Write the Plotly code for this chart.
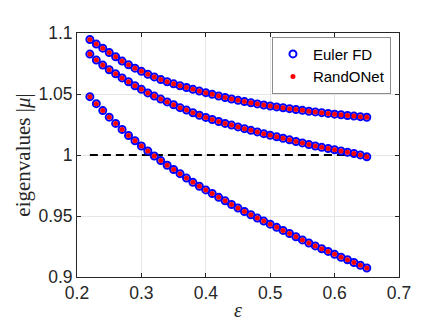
import plotly.graph_objects as go

# epsilon values (step 0.01)
eps = [round(0.22 + 0.01 * i, 2) for i in range(44)]

mu_top = [1.0947, 1.0909, 1.0876, 1.0840, 1.0805, 1.0770, 1.0740, 1.0712, 1.0686, 1.0662,
          1.0640, 1.0619, 1.0600, 1.0583, 1.0568, 1.0553, 1.0538, 1.0524, 1.0511, 1.0497,
          1.0484, 1.0471, 1.0459, 1.0448, 1.0438, 1.0428, 1.0419, 1.0410, 1.0402, 1.0394,
          1.0387, 1.0380, 1.0373, 1.0366, 1.0359, 1.0353, 1.0347, 1.0341, 1.0335, 1.0330,
          1.0324, 1.0319, 1.0314, 1.0309]

mu_mid = [1.0827, 1.0778, 1.0737, 1.0699, 1.0665, 1.0632, 1.0600, 1.0568, 1.0538, 1.0509,
          1.0483, 1.0458, 1.0435, 1.0412, 1.0388, 1.0368, 1.0346, 1.0326, 1.0308, 1.0291,
          1.0275, 1.0259, 1.0245, 1.0230, 1.0216, 1.0202, 1.0189, 1.0175, 1.0162, 1.0150,
          1.0137, 1.0124, 1.0111, 1.0099, 1.0086, 1.0074, 1.0063, 1.0053, 1.0043, 1.0033,
          1.0022, 1.0012, 1.0001, 0.9986]

mu_low = [1.0478, 1.0421, 1.0364, 1.0310, 1.0259, 1.0210, 1.0160, 1.0117, 1.0074, 1.0033,
          0.9992, 0.9954, 0.9916, 0.9881, 0.9847, 0.9811, 0.9776, 0.9744, 0.9714, 0.9684,
          0.9653, 0.9624, 0.9594, 0.9565, 0.9537, 0.9510, 0.9483, 0.9458, 0.9433, 0.9407,
          0.9382, 0.9357, 0.9330, 0.9304, 0.9279, 0.9255, 0.9232, 0.9210, 0.9186, 0.9162,
          0.9141, 0.9119, 0.9096, 0.9074]

x_ticks = [0.2, 0.3, 0.4, 0.5, 0.6, 0.7]
y_ticks = [0.9, 0.95, 1.0, 1.05, 1.1]
y_ticktext = ["0.9", "0.95", "1", "1.05", "1.1"]

ax_col = "#262626"
tick_font = dict(family="Liberation Sans, Arial", size=17.5, color=ax_col)

fig = go.Figure()

# unit-circle reference line
fig.add_trace(go.Scatter(
    x=[eps[0], eps[-1]], y=[1, 1], mode="lines",
    line=dict(color="black", width=2, dash="8px,5px"),
    showlegend=False, hoverinfo="skip"
))

first = True
for mu in [mu_top, mu_mid, mu_low]:
    fig.add_trace(go.Scatter(
        x=eps, y=mu, mode="markers", name="Euler FD",
        marker=dict(symbol="circle-open", size=7, color="#0000ff",
                    line=dict(width=2, color="#0000ff")),
        showlegend=first, legendgroup="fd"
    ))
    first = False

first = True
for mu in [mu_top, mu_mid, mu_low]:
    fig.add_trace(go.Scatter(
        x=eps, y=mu, mode="markers", name="RandONet",
        marker=dict(symbol="circle", size=5, color="#ff0000"),
        showlegend=first, legendgroup="rn"
    ))
    first = False

fig.update_layout(
    width=432, height=324,
    margin=dict(l=69, r=41, t=25, b=55),
    plot_bgcolor="white", paper_bgcolor="white",
    showlegend=True,
    legend=dict(
        x=0.975, y=0.985, xanchor="right", yanchor="top",
        bgcolor="white", bordercolor="#8c8c8c", borderwidth=1,
        font=dict(family="Liberation Sans, Arial", size=15, color="black"),
        itemwidth=30, tracegroupgap=0
    ),
    xaxis=dict(
        range=[0.2, 0.7], tickvals=x_ticks, ticktext=[str(t) for t in x_ticks],
        showgrid=True, gridcolor="#e6e6e6", gridwidth=1, zeroline=False,
        showline=True, linecolor=ax_col, linewidth=1, mirror="ticks",
        ticks="inside", ticklen=4, tickcolor=ax_col, tickfont=tick_font,
        title=dict(text="<i>ε</i>", font=dict(family="Liberation Serif", size=20, color=ax_col),
                   standoff=0)
    ),
    yaxis=dict(
        range=[0.9, 1.1], tickvals=y_ticks, ticktext=y_ticktext,
        showgrid=True, gridcolor="#e6e6e6", gridwidth=1, zeroline=False,
        showline=True, linecolor=ax_col, linewidth=1, mirror="ticks",
        ticks="inside", ticklen=4, tickcolor=ax_col, tickfont=tick_font,
        title=dict(text="eigenvalues |<i>μ</i>|",
                   font=dict(family="Liberation Serif", size=21, color=ax_col),
                   standoff=2)
    ),
)

fig.write_html("out.html")
